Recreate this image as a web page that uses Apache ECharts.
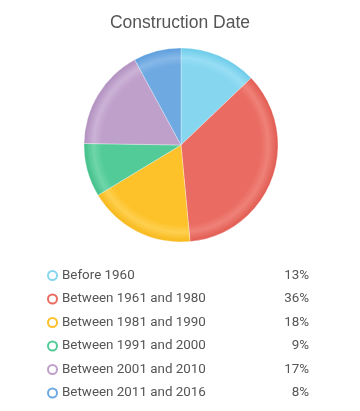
<!DOCTYPE html>
<html><head><meta charset="utf-8">
<script src="https://cdn.jsdelivr.net/npm/echarts@6/dist/echarts.min.js"></script>
<style>html,body{margin:0;padding:0;background:#fff}#c{width:360px;height:411px}</style>
</head><body><div id="c"></div>
<script>
const categories = ["Before 1960","Between 1961 and 1980","Between 1981 and 1990","Between 1991 and 2000","Between 2001 and 2010","Between 2011 and 2016"];
const values = [13,36,18,9,17,8];
const colors = ["#86d6f0","#ea6b61","#fdc22a","#53cb98","#bfa0cb","#6ea9e1"];
const edgeColors = ["#6ccbe9","#e15a50","#f7b718","#40bf88","#b08fbf","#5b9ddc"];
const lightColors = ["#97def4","#ef8178","#fed04f","#6fd6a9","#ccb2d6","#86b8e8"];

const cx = 181, cy = 145, R = 97;
const chart = echarts.init(document.getElementById('c'));
const data = categories.map((n,i)=>({
  name:n, value:values[i],
  itemStyle:{color:{type:'radial',x:cx,y:cy,r:R,global:true,colorStops:[
    {offset:0,color:colors[i]},{offset:0.82,color:colors[i]},{offset:0.9,color:lightColors[i]},{offset:1,color:edgeColors[i]}]}}
}));
const valMap = {}; categories.forEach((n,i)=>valMap[n]=values[i]);
chart.setOption({
  animation:false,
  title:{text:'Construction Date',left:'center',top:9,textStyle:{fontFamily:'Liberation Sans',fontSize:17.5,fontWeight:'normal',color:'#555'}},
  legend:{
    orient:'vertical',left:47,top:269,padding:0,itemWidth:9,itemHeight:9,itemGap:10.5,
    icon:'circle',
    data:categories.map((n,i)=>({name:n,itemStyle:{color:'#fff',borderColor:colors[i],borderWidth:2}})),
    formatter:n=>'{n|'+n+'}{v|'+valMap[n]+'%}',
    textStyle:{fontFamily:'Roboto',fontSize:13.4,color:'#555',
      rich:{n:{width:207,fontFamily:'Roboto',fontSize:13.4,color:'#555',lineHeight:14},v:{width:40,align:'right',fontFamily:'Roboto',fontSize:13.4,color:'#555',lineHeight:14}}}
  },
  series:[{type:'pie',center:[cx,cy],radius:[0,R],startAngle:90,clockwise:true,
    label:{show:false},labelLine:{show:false},
    itemStyle:{borderColor:'rgba(255,255,255,0.6)',borderWidth:0.5},
    emphasis:{disabled:true},
    data:data}]
});
</script></body></html>
